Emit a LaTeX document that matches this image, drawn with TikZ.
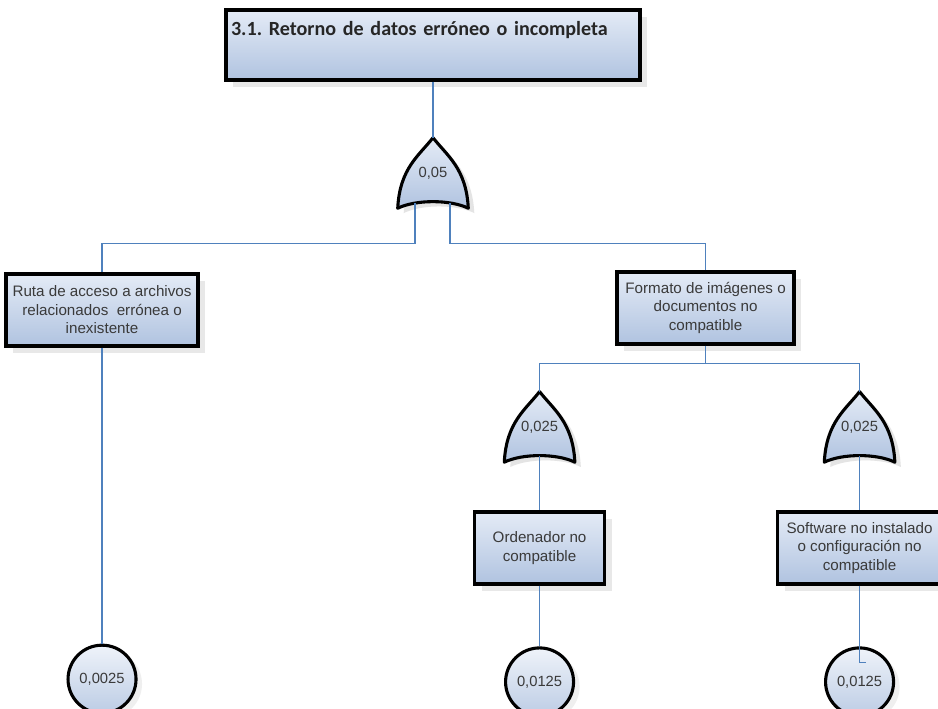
\documentclass[tikz,border=0pt]{standalone}
\usepackage{fontspec}
\newfontfamily\arialfont{Liberation Sans}
\newfontfamily\calibrifont{Carlito}
\usetikzlibrary{positioning,calc,shadows,backgrounds}
\definecolor{boxtop}{RGB}{228,235,246}
\definecolor{boxbot}{RGB}{176,195,224}
\definecolor{connblue}{RGB}{79,129,189}
\definecolor{txtgray}{RGB}{58,58,58}

% outline of an OR gate, built on the anchors of a node
\newcommand{\gatepath}[1]{%
  (#1.south west) .. controls ($(#1.south west)+(0.05,1.0)$) and ($(#1.north)+(-0.35,-0.45)$) .. (#1.north)
  .. controls ($(#1.north)+(0.35,-0.45)$) and ($(#1.south east)+(-0.05,1.0)$) .. (#1.south east)
  .. controls ($(#1.south east)+(-0.45,0.22)$) and ($(#1.south west)+(0.45,0.22)$) .. (#1.south west) -- cycle}
\newcommand{\drawgate}[1]{%
  \begin{scope}[on background layer]
    \fill[gray!35, opacity=0.6, transform canvas={shift={(0.15,-0.12)}}] \gatepath{#1};
    \draw[gateline] \gatepath{#1};
  \end{scope}}

\begin{document}
\begin{tikzpicture}[
    eventbox/.style={rectangle, draw=black, line width=2.4pt, top color=boxtop, bottom color=boxbot, drop shadow={shadow xshift=0.18cm, shadow yshift=-0.18cm, fill=gray!50, opacity=0.35}, align=center, minimum height=1.8cm, inner sep=0.1cm, text=txtgray, font=\arialfont\fontsize{10.8}{13.2}\selectfont},
    titlebox/.style={eventbox, align=left, minimum width=10.35cm, text width=10.1cm, inner xsep=0.125cm, inner ysep=0.1cm, text height=0.55cm, text depth=1.0cm, minimum height=0pt, text=black!85, font=\calibrifont\bfseries\fontsize{14.3}{16}\selectfont\frenchspacing},
    orgate/.style={minimum width=1.75cm, minimum height=1.75cm, inner sep=0, text=txtgray, font=\arialfont\fontsize{10.5}{12}\selectfont},
    gateline/.style={draw=black, line width=2.2pt, line join=round, top color=boxtop, bottom color=boxbot},
    basicev/.style={circle, draw=black, line width=2.2pt, top color=boxtop!60!white, bottom color=boxbot!85!white, minimum size=1.7cm, inner sep=0, drop shadow={shadow xshift=0.15cm, shadow yshift=-0.12cm, fill=gray!40, opacity=0.3}, text=txtgray, font=\arialfont\fontsize{10.5}{12}\selectfont},
    conn/.style={draw=connblue, line width=1.2pt}
    ]
    \begin{scope}[on background layer]
      \fill[white] (0,0) rectangle (23.45,-17.7);
    \end{scope}
    \useasboundingbox (0,0) rectangle (23.45,-17.7);

    %Nodes
    \node[titlebox]  (retorno)   at (10.825,-1.125)                   {3.1. Retorno de datos erróneo o incompleta};
    \node[orgate]    (gateA)     [below=1.4cm of retorno]             {0,05};
    \node[eventbox, minimum width=4.8cm]  (ruta)    [below left=1.6cm and 4.95cm of gateA]   {Ruta de acceso a archivos\\relacionados~ errónea o\\inexistente};
    \node[eventbox, minimum width=4.43cm] (formato) [below right=1.55cm and 3.675cm of gateA] {Formato de imágenes o\\documentos no\\compatible};
    \node[orgate]    (gateB)     [below=1.15cm of formato, xshift=-4.15cm] {0,025};
    \node[orgate]    (gateC)     [below=1.15cm of formato, xshift=3.85cm]  {0,025};
    \node[eventbox, minimum width=3.25cm] (ordenador) [below=1.2cm of gateB] {Ordenador no\\compatible};
    \node[eventbox, minimum width=4.1cm]  (software)  [below=1.2cm of gateC] {Software no instalado\\o configuración no\\compatible};
    \node[basicev]   (prob1)     [below=7.4cm of ruta]                {0,0025};
    \node[basicev]   (prob2)     [below=1.52cm of ordenador]          {0,0125};
    \node[basicev]   (prob3)     [below=1.52cm of software]           {0,0125};
    \drawgate{gateA}
    \drawgate{gateB}
    \drawgate{gateC}

    \coordinate (barA) at ([yshift=-0.88cm]gateA.south);
    \coordinate (barB) at ([yshift=-0.45cm]formato.south);

    %Lines
    \draw[conn] (retorno.south) -- (gateA.north);
    \draw[conn] ([xshift=-0.45cm,yshift=0.12cm]gateA.south) |- (barA -| ruta.north) -- (ruta.north);
    \draw[conn] ([xshift=0.43cm,yshift=0.12cm]gateA.south)  |- (barA -| formato.north) -- (formato.north);
    \draw[conn] (formato.south) -- (barB);
    \draw[conn] (gateB.north) |- (barB) -| (gateC.north);
    \draw[conn] ([yshift=0.16cm]gateB.south) -- (ordenador.north);
    \draw[conn] ([yshift=0.16cm]gateC.south) -- (software.north);
    \draw[conn] (ruta.south) -- (prob1.north);
    \draw[conn] (ordenador.south) -- (prob2.north);
    \draw[conn] (software.south) |- ([xshift=0.15cm,yshift=-0.4cm]prob3.north);
\end{tikzpicture}
\end{document}
